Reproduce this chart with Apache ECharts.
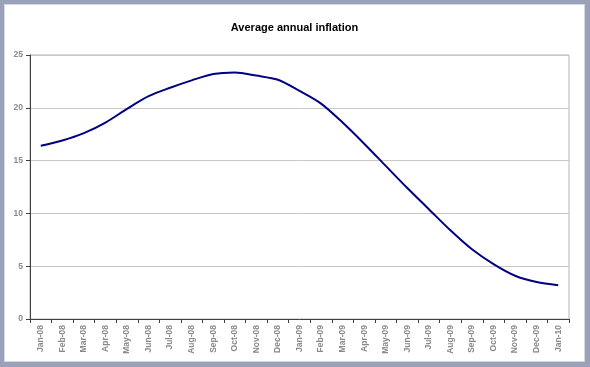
<!DOCTYPE html>
<html>
<head>
<meta charset="utf-8">
<script src="https://cdn.jsdelivr.net/npm/echarts@6/dist/echarts.min.js"></script>
<style>
  html, body { margin:0; padding:0; width:590px; height:367px; background:#9aa2ba; overflow:hidden; }
  #frame { position:absolute; left:4px; top:4px; width:579px; height:356px; background:#ffffff; border:1px solid #d4d8e4; }
  #chart { position:absolute; left:0; top:0; width:579px; height:356px; }
</style>
</head>
<body>
<div id="frame"><div id="chart"></div></div>
<script>
var titleText = 'Average annual inflation';
var categories = ['Jan-08','Feb-08','Mar-08','Apr-08','May-08','Jun-08','Jul-08','Aug-08','Sep-08','Oct-08','Nov-08','Dec-08',
  'Jan-09','Feb-09','Mar-09','Apr-09','May-09','Jun-09','Jul-09','Aug-09','Sep-09','Oct-09','Nov-09','Dec-09','Jan-10'];
var inflation = [16.4, 16.9, 17.6, 18.6, 19.9, 21.1, 21.9, 22.6, 23.2, 23.35, 23.05, 22.65,
  21.6, 20.4, 18.6, 16.6, 14.5, 12.4, 10.4, 8.4, 6.6, 5.2, 4.1, 3.5, 3.2];
var yTicks = { min: 0, max: 25, interval: 5 };

var chart = echarts.init(document.getElementById('chart'), null, { renderer: 'canvas' });
chart.setOption({
  animation: false,
  backgroundColor: '#ffffff',
  title: {
    text: titleText,
    left: 'center',
    top: 12,
    textStyle: { fontFamily: 'Liberation Sans, Arial, sans-serif', fontSize: 11, fontWeight: 'bold', color: '#000000' }
  },
  grid: {
    left: 25, top: 50, right: 15, bottom: 42,
    show: true, borderColor: '#b4b4b4', borderWidth: 1, backgroundColor: 'transparent'
  },
  xAxis: {
    type: 'category',
    data: categories,
    boundaryGap: true,
    axisLine: { lineStyle: { color: '#404040', width: 1 } },
    axisTick: { show: true, alignWithLabel: false, length: 4, lineStyle: { color: '#404040' } },
    axisLabel: {
      rotate: 90, interval: 0, margin: 6,
      fontFamily: 'Liberation Sans, Arial, sans-serif', fontSize: 8.5, fontWeight: 'bold', color: '#8a8a8a'
    },
    splitLine: { show: false }
  },
  yAxis: {
    type: 'value',
    min: yTicks.min, max: yTicks.max, interval: yTicks.interval,
    axisLine: { show: true, lineStyle: { color: '#404040', width: 1 } },
    axisTick: { show: true, inside: false, length: 4, lineStyle: { color: '#404040' } },
    axisLabel: {
      margin: 7,
      fontFamily: 'Liberation Sans, Arial, sans-serif', fontSize: 8.5, fontWeight: 'bold', color: '#8a8a8a'
    },
    splitLine: { show: true, lineStyle: { color: '#c8c8c8', width: 1 } }
  },
  series: [{
    type: 'line',
    data: inflation,
    smooth: 0.3,
    showSymbol: false,
    symbol: 'none',
    lineStyle: { color: '#000080', width: 2 }
  }]
});
</script>
</body>
</html>
